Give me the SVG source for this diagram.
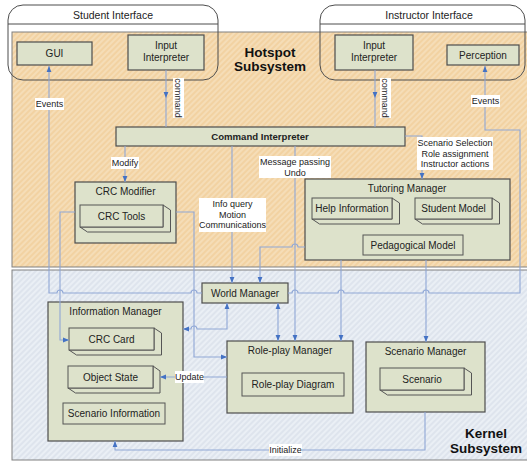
<svg xmlns="http://www.w3.org/2000/svg" width="527" height="464" viewBox="0 0 527 464">
<defs>
<pattern id="hatchO" width="4" height="4" patternUnits="userSpaceOnUse" patternTransform="rotate(45)"><rect width="4" height="4" fill="#F2D2A2"/><line x1="1" y1="0" x2="1" y2="4" stroke="#F8E3C3" stroke-width="1.3"/></pattern>
<pattern id="hatchK" width="4" height="4" patternUnits="userSpaceOnUse" patternTransform="rotate(45)"><rect width="4" height="4" fill="#EAEFF5"/><line x1="1" y1="0" x2="1" y2="4" stroke="#D6DEE9" stroke-width="1.2"/></pattern>
<marker id="ah" viewBox="0 0 10 10" refX="10" refY="5" markerWidth="6" markerHeight="6" markerUnits="userSpaceOnUse" orient="auto-start-reverse"><path d="M0,1 L10,5 L0,9 z" fill="#4472C4"/></marker>
</defs>
<style>
.node{fill:#DDE2CB;stroke:#4d4d4d;stroke-width:1.2}
.inner{fill:#DDE2CB;stroke:#555;stroke-width:1}
.t{font-family:"Liberation Sans",Arial,sans-serif;font-size:10px;fill:#222;text-anchor:middle}
.hdr{font-size:10.5px}
.big{font-size:13.5px;font-weight:bold;fill:#111}
.lbl{font-family:"Liberation Sans",Arial,sans-serif;font-size:9px;fill:#222;text-anchor:middle}
.bg{fill:#fff}
.c{fill:none;stroke:#8FA7D6;stroke-width:1.1}
.ca{fill:none;stroke:#8FA7D6;stroke-width:1.1;marker-end:url(#ah)}
.cb{fill:none;stroke:#8FA7D6;stroke-width:1.1;marker-end:url(#ah);marker-start:url(#ah)}
</style>

<!-- subsystem backgrounds -->
<g id="hotspot-subsystem">
<rect x="12" y="32" width="520" height="235" fill="url(#hatchO)" stroke="#808080" stroke-width="1"/>
<text class="t big" x="270" y="57">Hotspot</text>
<text class="t big" x="270" y="71">Subsystem</text>
</g>
<g id="kernel-subsystem">
<rect x="12" y="270" width="520" height="190" fill="url(#hatchK)" stroke="#808080" stroke-width="1"/>
<text class="t big" x="486" y="438">Kernel</text>
<text class="t big" x="486" y="453">Subsystem</text>
</g>

<!-- interfaces -->
<g id="student-interface">
<rect x="8" y="5" width="210" height="75" rx="15" ry="15" fill="none" stroke="#4d4d4d" stroke-width="1"/>
<line x1="8" y1="24" x2="218" y2="24" stroke="#4d4d4d" stroke-width="1"/>
<text class="t hdr" x="113" y="18.8">Student Interface</text>
</g>
<g id="instructor-interface">
<rect x="320" y="5" width="205" height="75" rx="15" ry="15" fill="none" stroke="#4d4d4d" stroke-width="1"/>
<line x1="320" y1="24" x2="525" y2="24" stroke="#4d4d4d" stroke-width="1"/>
<text class="t hdr" x="429" y="18.8">Instructor Interface</text>
</g>

<!-- hotspot nodes -->
<g id="gui">
<rect class="node" x="17" y="42" width="75" height="23"/>
<text class="t" x="54.5" y="57">GUI</text>
</g>
<g id="student-input-interpreter">
<rect class="node" x="128" y="35" width="76" height="35"/>
<text class="t" x="166" y="48.6">Input</text>
<text class="t" x="166" y="61">Interpreter</text>
</g>
<g id="instructor-input-interpreter">
<rect class="node" x="335" y="35" width="78" height="35"/>
<text class="t" x="374" y="48.6">Input</text>
<text class="t" x="374" y="61">Interpreter</text>
</g>
<g id="perception">
<rect class="node" x="447" y="45" width="72" height="20"/>
<text class="t" x="483" y="58.6">Perception</text>
</g>
<g id="command-interpreter">
<rect class="node" x="116" y="127" width="289" height="19"/>
<text class="t" x="260" y="140" style="font-weight:bold;font-size:9.6px">Command Interpreter</text>
</g>
<g id="crc-modifier">
<rect class="node" x="75" y="182" width="101" height="61"/>
<text class="t" x="125.5" y="194.6">CRC Modifier</text>
<g id="crc-tools">
<polygon class="inner" points="163,205 170.5,210 170.5,232 87.5,232 80,227 163,227"/>
<rect class="inner" x="80" y="205" width="83" height="22"/>
<text class="t" x="121.5" y="219.6">CRC Tools</text>
</g>
</g>
<g id="tutoring-manager">
<rect class="node" x="305" y="179" width="205" height="81"/>
<text class="t" x="407" y="191.6">Tutoring Manager</text>
<g id="help-information">
<polygon class="inner" points="392,198 399.5,203 399.5,224 319.5,224 312,219 392,219"/>
<rect class="inner" x="312" y="198" width="80" height="21"/>
<text class="t" x="352" y="212">Help Information</text>
</g>
<g id="student-model">
<polygon class="inner" points="492,198 499.5,203 499.5,224 422.5,224 415,219 492,219"/>
<rect class="inner" x="415" y="198" width="77" height="21"/>
<text class="t" x="453.5" y="212">Student Model</text>
</g>
<g id="pedagogical-model">
<rect class="inner" x="363" y="235" width="100" height="20"/>
<text class="t" x="413" y="248.6">Pedagogical Model</text>
</g>
</g>

<!-- kernel nodes -->
<g id="world-manager">
<rect class="node" x="202" y="283" width="86" height="20"/>
<text class="t" x="245" y="296.6">World Manager</text>
</g>
<g id="information-manager">
<rect class="node" x="48" y="302" width="135" height="139"/>
<text class="t" x="115.5" y="314.6">Information Manager</text>
<g id="crc-card">
<polygon class="inner" points="154,328 161.5,333 161.5,355 76.5,355 69,350 154,350"/>
<rect class="inner" x="69" y="328" width="85" height="22"/>
<text class="t" x="111.5" y="342.6">CRC Card</text>
</g>
<g id="object-state">
<polygon class="inner" points="153,366 160,371 160,393 75.5,393 68,388 153,388"/>
<rect class="inner" x="68" y="366" width="85" height="22"/>
<text class="t" x="110.5" y="380.6">Object State</text>
</g>
<g id="scenario-information">
<rect class="inner" x="63" y="403" width="102" height="21"/>
<text class="t" x="114" y="417">Scenario Information</text>
</g>
</g>
<g id="role-play-manager">
<rect class="node" x="227" y="341" width="126" height="72"/>
<text class="t" x="290" y="353.6">Role-play Manager</text>
<g id="role-play-diagram">
<rect class="inner" x="242" y="373" width="102" height="23"/>
<text class="t" x="293" y="388">Role-play Diagram</text>
</g>
</g>
<g id="scenario-manager">
<rect class="node" x="366" y="342" width="119" height="70"/>
<text class="t" x="425.5" y="354.6">Scenario Manager</text>
<g id="scenario">
<polygon class="inner" points="464,368 471.5,373 471.5,395 387.5,395 380,390 464,390"/>
<rect class="inner" x="380" y="368" width="84" height="22"/>
<text class="t" x="422" y="382.6">Scenario</text>
</g>
</g>

<!-- connectors -->
<g id="connectors">
<path class="ca" d="M166,70 V98"/><path class="c" d="M166,98 V127"/>
<path class="ca" d="M375,70 V98"/><path class="c" d="M375,98 V127"/>
<path class="ca" d="M202,293 H197 A3,3 0 0 0 191,293 H63 A3,3 0 0 0 57,293 H49 V66"/>
<path class="ca" d="M288,293 H292 A3,3 0 0 1 298,293 H338 A3,3 0 0 1 344,293 H423 A3,3 0 0 1 429,293 H520 V130 H485 V66"/>
<path class="ca" d="M125,146 V182"/>
<path class="ca" d="M232,146 V283"/>
<path class="ca" d="M295,146 V341"/>
<path class="ca" d="M405,136 H422 V179"/>
<path class="ca" d="M305,247 H298 A3,3 0 0 0 292,247 H260 V283"/>
<path class="ca" d="M341,260 V341"/>
<path class="ca" d="M426,260 V342"/>
<path class="cb" d="M278,303 V341"/>
<path class="cb" d="M227,303 V329 H197 A3,3 0 0 0 191,329 H183"/>
<path class="ca" d="M176,212 H194 V357 H227"/>
<path class="ca" d="M75,212 H60 V340 H69"/>
<path class="ca" d="M227,377 H160"/>
<path class="ca" d="M425,412 V450 H115 V441"/>

<!-- connector labels -->
<rect class="bg" x="173" y="78" width="11" height="40"/>
<text class="lbl" transform="translate(178.5,98) rotate(90)" y="3.2">command</text>
<rect class="bg" x="380" y="78" width="11" height="40"/>
<text class="lbl" transform="translate(385.5,98) rotate(90)" y="3.2">command</text>
<rect class="bg" x="35" y="98" width="29" height="12"/>
<text class="lbl" x="49.5" y="107.2">Events</text>
<rect class="bg" x="471" y="95" width="29" height="12"/>
<text class="lbl" x="485.5" y="104.2">Events</text>
<rect class="bg" x="111" y="157" width="28" height="12"/>
<text class="lbl" x="125" y="166.2">Modify</text>
<rect class="bg" x="199" y="198" width="67" height="34"/>
<text class="lbl" x="232.5" y="207.2">Info query</text>
<text class="lbl" x="232.5" y="217.7">Motion</text>
<text class="lbl" x="232.5" y="228.2">Communications</text>
<rect class="bg" x="259" y="156" width="72" height="22"/>
<text class="lbl" x="295" y="165.2">Message passing</text>
<text class="lbl" x="295" y="175.7">Undo</text>
<rect class="bg" x="417" y="137" width="76" height="33"/>
<text class="lbl" x="455" y="146.2">Scenario Selection</text>
<text class="lbl" x="455" y="156.7">Role assignment</text>
<text class="lbl" x="455" y="167.2">Instructor actions</text>
<rect class="bg" x="175" y="371" width="29" height="12"/>
<text class="lbl" x="189.5" y="380.2">Update</text>
<rect class="bg" x="269" y="444" width="33" height="12"/>
<text class="lbl" x="285.5" y="453.2">Initialize</text>
</g>
</svg>
